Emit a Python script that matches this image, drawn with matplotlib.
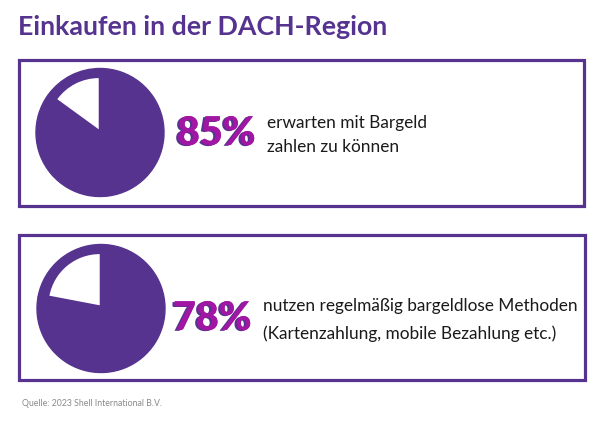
import matplotlib
matplotlib.use("Agg")
import matplotlib.pyplot as plt
import matplotlib.patheffects as pe
from matplotlib.patches import Rectangle

# ==========================
# Data
# ==========================

title = "Einkaufen in der DACH-Region"
shares = [85, 78]
descriptions = [
    "erwarten mit Bargeld\nzahlen zu können",
    "nutzen regelmäßig bargeldlose Methoden\n(Kartenzahlung, mobile Bezahlung etc.)",
]
source = "Quelle: 2023 Shell International B.V."

# ==========================
# Style
# ==========================

PURPLE = "#55338f"
MAGENTA = "#a116a3"
W, H = 600, 421

plt.rcParams["font.family"] = ["Lato", "DejaVu Sans"]

fig = plt.figure(figsize=(W / 100, H / 100), dpi=100)
bg = fig.add_axes([0, 0, 1, 1])
bg.set_xlim(0, W)
bg.set_ylim(H, 0)
bg.axis("off")

bg.text(18, 35, title, fontsize=19.3, fontweight="bold", color=PURPLE, va="baseline")

# layout per panel (pixel coords)
boxes = [(19, 59.5, 565, 146), (19, 235, 566, 145)]
pie_centers = [(100, 132.5), (101, 308.5)]
pct_pos = [(177, 145), (173, 330)]
txt_pos = [(267, 128, 24), (263, 311, 28)]
R = 64

shadow = [pe.withSimplePatchShadow(offset=(-1.6, -0.6), shadow_rgbFace=PURPLE, alpha=1.0),
          pe.Normal()]

for i, pct in enumerate(shares):
    x0, y0, bw, bh = boxes[i]
    bg.add_patch(Rectangle((x0, y0), bw, bh, fill=False, edgecolor=PURPLE, lw=2.3))

    cx, cy = pie_centers[i]
    ax = fig.add_axes([(cx - R) / W, 1 - (cy + R) / H, 2 * R / W, 2 * R / H])
    ax.pie([pct, 100 - pct], colors=[PURPLE, PURPLE], startangle=90,
           counterclock=False, radius=1.0,
           wedgeprops=dict(lw=1.0, edgecolor=PURPLE))
    wedges, _ = ax.pie([pct, 100 - pct], colors=[PURPLE, "white"], startangle=90,
                       counterclock=False, radius=0.8, center=(-0.02, 0.05),
                       wedgeprops=dict(lw=0))
    wedges[0].set_visible(False)
    ax.set_xlim(-1, 1)
    ax.set_ylim(-1, 1)
    ax.set_aspect("auto")
    ax.axis("off")

    px, py = pct_pos[i]
    bg.text(px, py, f"{pct}%", fontsize=28.5, fontweight="black",
            color=MAGENTA, va="baseline", path_effects=shadow)

    tx, ty, lh = txt_pos[i]
    for j, line in enumerate(descriptions[i].split("\n")):
        bg.text(tx, ty + j * lh, line, fontsize=12.4, color="#1a1a1a", va="baseline")

bg.text(22, 406, source, fontsize=6.3, color="#8a8a8a", va="baseline")

fig.savefig("out.png", dpi=100)
